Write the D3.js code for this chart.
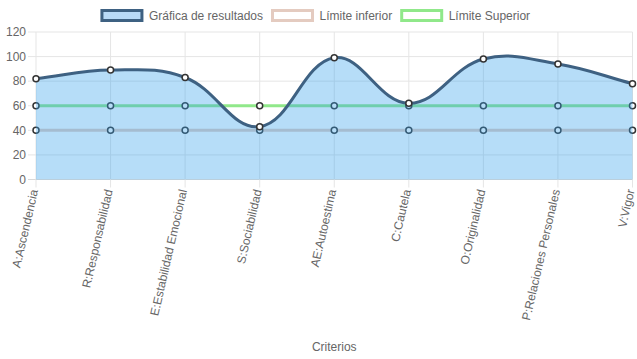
<!DOCTYPE html>
<html><head><meta charset="utf-8">
<script src="https://cdn.jsdelivr.net/npm/d3@7/dist/d3.min.js"></script>
<style>
html,body{margin:0;padding:0;background:#fff;}
svg{display:block;font-family:"Liberation Sans",Arial,Helvetica,sans-serif;}
</style></head>
<body>
<svg id="c" width="637" height="359"></svg>
<script>
const categories = ["A:Ascendencia","R:Responsabilidad","E:Estabilidad Emocional","S:Sociabilidad","AE:Autoestima","C:Cautela","O:Originalidad","P:Relaciones Personales","V:Vigor"];
const resultados = [82, 89, 83, 43, 99, 62, 98, 94, 78];
const limiteInferior = [40, 40, 40, 40, 40, 40, 40, 40, 40];
const limiteSuperior = [60, 60, 60, 60, 60, 60, 60, 60, 60];
const yTicks = [0, 20, 40, 60, 80, 100, 120];
const seriesNames = ["Gráfica de resultados", "Límite inferior", "Límite Superior"];
const axisTitle = "Criterios";

(function () {
const W = 637, H = 359;
const pL = 36, pR = 632.5, pT = 32, pB = 179.5;
const svg = d3.select("#c");
const x = d3.scalePoint().domain(categories).range([pL, pR]);
const y = d3.scaleLinear().domain([0, 120]).range([pB, pT]);
const grid = "#e5e5e5", txt = "#666";

// grid
const g = svg.append("g");
g.selectAll("line.h").data(yTicks).join("line")
  .attr("x1", pL - 8).attr("x2", pR).attr("y1", d => y(d)).attr("y2", d => y(d))
  .attr("stroke", d => d === 0 ? "#d9d9d9" : grid).attr("stroke-width", 1);
g.selectAll("line.v").data(categories).join("line")
  .attr("x1", d => x(d)).attr("x2", d => x(d)).attr("y1", pT).attr("y2", pB + 8)
  .attr("stroke", grid).attr("stroke-width", 1);

// y tick labels
svg.append("g").selectAll("text").data(yTicks).join("text")
  .attr("x", 26).attr("y", d => y(d)).attr("dy", "0.35em")
  .attr("text-anchor", "end").attr("font-size", 12).attr("fill", txt).text(d => d);

// x tick labels
svg.append("g").selectAll("text").data(categories).join("text")
  .attr("transform", d => `translate(${x(d) - 2},${pB + 10}) rotate(-77)`)
  .attr("dy", "0.35em")
  .attr("text-anchor", "end").attr("font-size", 12).attr("fill", txt).text(d => d);

svg.append("text").attr("x", (pL + pR) / 2).attr("y", 351)
  .attr("text-anchor", "middle").attr("font-size", 12).attr("fill", txt).text(axisTitle);

// Chart.js style spline
function splinePath(vals, t) {
  const pts = vals.map((v, i) => ({ x: x(categories[i]), y: y(v) }));
  pts.forEach((c, i) => {
    const p = pts[i - 1] || c, n = pts[i + 1] || c;
    const d01 = Math.hypot(c.x - p.x, c.y - p.y), d12 = Math.hypot(n.x - c.x, n.y - c.y);
    let s01 = d01 / (d01 + d12), s12 = d12 / (d01 + d12);
    if (!isFinite(s01)) s01 = 0; if (!isFinite(s12)) s12 = 0;
    const fa = t * s01, fb = t * s12;
    c.cpx1 = Math.max(pL, Math.min(pR, c.x - fa * (n.x - p.x)));
    c.cpy1 = Math.max(pT, Math.min(pB, c.y - fa * (n.y - p.y)));
    c.cpx2 = Math.max(pL, Math.min(pR, c.x + fb * (n.x - p.x)));
    c.cpy2 = Math.max(pT, Math.min(pB, c.y + fb * (n.y - p.y)));
  });
  const path = d3.path();
  path.moveTo(pts[0].x, pts[0].y);
  for (let i = 1; i < pts.length; i++) {
    path.bezierCurveTo(pts[i - 1].cpx2, pts[i - 1].cpy2, pts[i].cpx1, pts[i].cpy1, pts[i].x, pts[i].y);
  }
  return { d: path.toString(), pts };
}

function drawSeries(vals, color, fill) {
  const s = splinePath(vals, 0.4);
  if (fill) {
    const last = s.pts[s.pts.length - 1], first = s.pts[0];
    svg.append("path").attr("d", s.d + `L${last.x},${y(0)}L${first.x},${y(0)}Z`)
      .attr("fill", fill).attr("stroke", "none");
  }
  svg.append("path").attr("d", s.d).attr("fill", "none").attr("stroke", color).attr("stroke-width", 3);
  svg.append("g").selectAll("circle").data(vals).join("circle")
    .attr("cx", (d, i) => x(categories[i])).attr("cy", d => y(d)).attr("r", 3)
    .attr("fill", "#fff").attr("stroke", "#333").attr("stroke-width", 1.5);
}

const colors = ["rgb(62,97,130)", "rgb(228,203,192)", "rgb(144,232,138)"];
const fillCol = "rgba(54,162,235,0.36)";
drawSeries(limiteSuperior, colors[2]);
drawSeries(limiteInferior, colors[1]);
drawSeries(resultados, colors[0], fillCol);

// legend
const leg = svg.append("g");
const items = seriesNames.map((n, i) => {
  const t = leg.append("text").attr("font-size", 12).attr("fill", txt).text(n);
  return { t, w: t.node().getComputedTextLength(), i };
});
const total = d3.sum(items, d => 40 + 6 + d.w) + 10 * (items.length - 1);
let lx = W / 2 - total / 2 - 3.5;
items.forEach(d => {
  leg.append("rect").attr("x", lx).attr("y", 10.5).attr("width", 40).attr("height", 10)
    .attr("fill", d.i === 0 ? "rgb(184,218,247)" : "#fff").attr("stroke", colors[d.i]).attr("stroke-width", 3);
  d.t.attr("x", lx + 47).attr("y", 20);
  lx += 40 + 7 + d.w + 9.5;
});
})();
</script>
</body></html>
